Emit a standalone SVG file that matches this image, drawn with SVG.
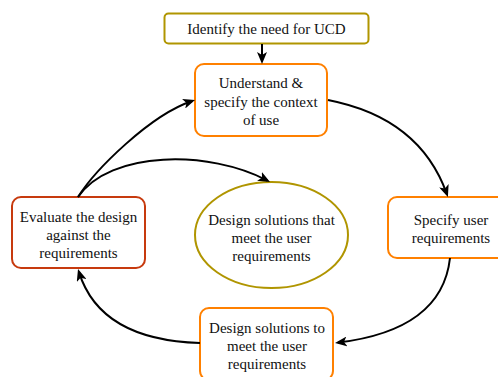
<svg xmlns="http://www.w3.org/2000/svg" width="498" height="377" viewBox="0 0 498 377">
<style>
text{font-family:'Liberation Serif','Times New Roman','DejaVu Serif',serif;font-size:15px;fill:#111;text-anchor:middle}
.box{fill:#fff;stroke-width:2}
.orange{stroke:#FF8000}
.olive{stroke:#B09500}
.red{stroke:#C73A0E}
.conn path{fill:none;stroke:#000;stroke-width:2;marker-end:url(#arrow)}
</style>
<defs>
<marker id="arrow" markerUnits="userSpaceOnUse" markerWidth="12" markerHeight="10" viewBox="0 0 12 10" refX="9" refY="5" orient="auto">
<path d="M0,0 L12,5 L0,10 L3,5 Z" fill="#000"/>
</marker>
</defs>
<rect width="498" height="377" fill="#fff"/>
<g id="identify">
<rect class="box olive" x="164.5" y="13.5" width="204" height="30" rx="4"/>
<text x="266.5" y="34" font-family="Liberation Serif, serif">Identify the need for UCD</text>
</g>
<g id="understand">
<rect class="box orange" x="195" y="64" width="132" height="72" rx="9"/>
<text x="261" y="88" font-family="Liberation Serif, serif">Understand &amp;</text>
<text x="261" y="106.5" font-family="Liberation Serif, serif">specify the context</text>
<text x="261" y="125" font-family="Liberation Serif, serif">of use</text>
</g>
<g id="evaluate">
<rect class="box red" x="12" y="197" width="133" height="71" rx="9"/>
<text x="78.5" y="222" font-family="Liberation Serif, serif">Evaluate the design</text>
<text x="78.5" y="240" font-family="Liberation Serif, serif">against the</text>
<text x="78.5" y="258" font-family="Liberation Serif, serif">requirements</text>
</g>
<g id="design-ellipse">
<ellipse class="box olive" cx="271.5" cy="235" rx="76.5" ry="53"/>
<text x="271.5" y="225" font-family="Liberation Serif, serif">Design solutions that</text>
<text x="271.5" y="243" font-family="Liberation Serif, serif">meet the user</text>
<text x="271.5" y="261" font-family="Liberation Serif, serif">requirements</text>
</g>
<g id="specify">
<rect class="box orange" x="388" y="197" width="126" height="61" rx="9"/>
<text x="451" y="225" font-family="Liberation Serif, serif">Specify user</text>
<text x="451" y="243" font-family="Liberation Serif, serif">requirements</text>
</g>
<g id="design-solutions">
<rect class="box orange" x="200" y="308" width="133" height="72" rx="9"/>
<text x="267" y="333" font-family="Liberation Serif, serif">Design solutions to</text>
<text x="267" y="351" font-family="Liberation Serif, serif">meet the user</text>
<text x="267" y="369" font-family="Liberation Serif, serif">requirements</text>
</g>
<g id="connectors" class="conn">
<path d="M262,44 L262,61"/>
<path d="M328,100 Q420,118 446.9,194.2"/>
<path d="M450,258 Q442,330 338,342.6"/>
<path d="M200,343 Q100,340 78.9,271.9"/>
<path d="M78,197 C95,170 150,115 192.2,101"/>
<path d="M78,197 C110,150 210,150 267.4,180.6"/>
</g>
</svg>
